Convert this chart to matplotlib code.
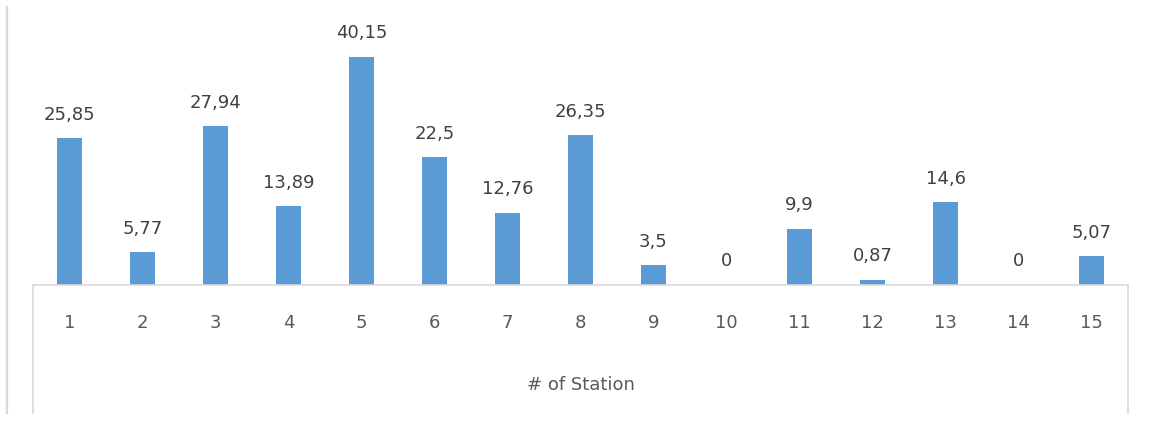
import matplotlib
matplotlib.use("Agg")
import matplotlib.pyplot as plt
from matplotlib.lines import Line2D

stations = ["1", "2", "3", "4", "5", "6", "7", "8", "9", "10", "11", "12", "13", "14", "15"]
values = [25.85, 5.77, 27.94, 13.89, 40.15, 22.5, 12.76, 26.35, 3.5, 0, 9.9, 0.87, 14.6, 0, 5.07]
xlabel = "# of Station"

W, H = 1152, 421
fig = plt.figure(figsize=(W / 100, H / 100), dpi=100)
plt.rcParams['font.family'] = ['DejaVu Sans']

x0, x1 = 33, 1128
base = 285
ax = fig.add_axes([x0 / W, 1 - base / H, (x1 - x0) / W, base / H])
ax.set_xlim(-0.5, len(stations) - 0.5)
scale = (base - 57) / 40.15
ax.set_ylim(0, base / scale)

pos = list(range(len(stations)))
ax.bar(pos, values, width=0.33, color="#5b9bd5", zorder=2)
for p, v in zip(pos, values):
    ax.annotate(f"{v:g}".replace('.', ','), (p, v), xytext=(0, 10.5), textcoords="offset points",
                ha="center", va="bottom", fontsize=13, color="#404040")

for s in ax.spines.values():
    s.set_visible(False)
ax.set_yticks([])
ax.set_xticks([])
ax.patch.set_visible(False)

for p, lab in zip(pos, stations):
    fig.text((x0 + (p + 0.5) * (x1 - x0) / len(stations)) / W, 1 - 323 / H, lab,
             ha="center", va="center", fontsize=13, color="#595959")
fig.text(((x0 + x1) / 2) / W, 1 - 385 / H, xlabel, ha="center", va="center",
         fontsize=13, color="#595959")

lc = "#d9d9d9"
def fl(xs, ys, lw=1.2):
    fig.add_artist(Line2D([x / W for x in xs], [1 - y / H for y in ys], color=lc, lw=lw))

fl([7, 7], [7, 413], lw=1.6)
fl([x0, x1], [base, base])
fl([x0, x0], [base, 413])
fl([x1, x1], [base, 413])

fig.savefig("out.png", dpi=100)
